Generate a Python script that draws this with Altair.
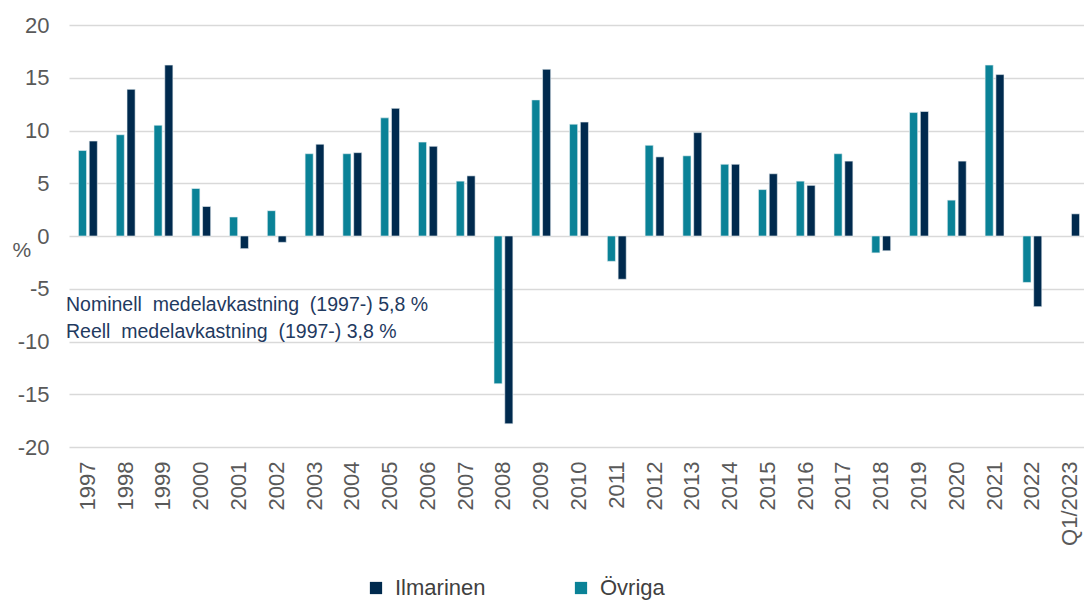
import altair as alt
import pandas as pd

years = ["1997", "1998", "1999", "2000", "2001", "2002", "2003", "2004", "2005",
         "2006", "2007", "2008", "2009", "2010", "2011", "2012", "2013", "2014",
         "2015", "2016", "2017", "2018", "2019", "2020", "2021", "2022", "Q1/2023"]
ilmarinen = [9.0, 13.9, 16.2, 2.8, -1.2, -0.6, 8.7, 7.9, 12.1, 8.5, 5.7, -17.8, 15.8,
             10.8, -4.1, 7.5, 9.8, 6.8, 5.9, 4.8, 7.1, -1.4, 11.8, 7.1, 15.3, -6.7, 2.1]
ovriga = [8.1, 9.6, 10.5, 4.5, 1.8, 2.4, 7.8, 7.8, 11.2, 8.9, 5.2, -14.0, 12.9,
          10.6, -2.4, 8.6, 7.6, 6.8, 4.4, 5.2, 7.8, -1.6, 11.7, 3.4, 16.2, -4.4, None]
series_names = ["Ilmarinen", "Övriga"]
series_colors = ["#002a4e", "#0a8297"]
y_ticks = [-20, -15, -10, -5, 0, 5, 10, 15, 20]
notes = ["Nominell\u00a0 medelavkastning\u00a0 (1997-) 5,8 %",
         "Reell\u00a0 medelavkastning\u00a0 (1997-) 3,8 %"]
note_pos = [-6.55, -9.1]

rows = []
for y, a, b in zip(years, ilmarinen, ovriga):
    rows.append({"year": y, "series": "Ilmarinen", "value": a})
    if b is not None:
        rows.append({"year": y, "series": "Övriga", "value": b})
df = pd.DataFrame(rows)
notes_df = pd.DataFrame({"text": notes, "value": note_pos})

FONT = "Liberation Sans"

bars = alt.Chart(df).mark_bar(stroke="#e8f0f3", strokeWidth=0.6).encode(
    x=alt.X("year:N", sort=years,
            scale=alt.Scale(paddingInner=0.5, paddingOuter=0.25, range=[0, 1020]),
            axis=alt.Axis(title=None, labelAngle=270, ticks=False, domain=False,
                          labelFontSize=22, labelColor="#595959", labelPadding=14,
                          labelFont=FONT, labelBaseline="middle")),
    xOffset=alt.XOffset("series:N", scale=alt.Scale(domain=["Övriga", "Ilmarinen"], paddingInner=0.25)),
    y=alt.Y("value:Q", scale=alt.Scale(domain=[-20, 20], nice=False),
            axis=alt.Axis(values=y_ticks, labelExpr="'' + datum.value",
                          title="%", titleAngle=0, titleX=-57, titleY=225,
                          titleAlign="left", titleBaseline="middle", titleFontSize=21,
                          titleFontWeight="normal", titleColor="#595959", titleFont=FONT,
                          labelFontSize=22, labelColor="#595959", labelFont=FONT,
                          labelPadding=20, ticks=False, domain=False,
                          gridColor="#d9d9d9", gridWidth=1.5)),
    color=alt.Color("series:N", scale=alt.Scale(domain=series_names, range=series_colors),
                    legend=alt.Legend(title=None, orient="none", legendX=296, legendY=552,
                                      direction="horizontal", symbolType="square",
                                      symbolSize=150, symbolStrokeWidth=0,
                                      labelFontSize=22, labelColor="#404040", labelFont=FONT,
                                      columnPadding=84, labelOffset=8)),
)

text = alt.Chart(notes_df).mark_text(align="left", baseline="middle", fontSize=19.5,
                                     font=FONT, color="#1f3a5f").encode(
    x=alt.value(-3),
    y=alt.Y("value:Q"),
    text="text:N",
)

chart = alt.layer(bars, text).properties(
    width=1015, height=422,
    autosize=alt.AutoSizeParams(type="none"),
    padding={"left": 61, "top": 17, "right": 0, "bottom": 153},
).configure_view(stroke=None)

chart.save("out.html", embed_options={"renderer": "svg", "actions": False})
